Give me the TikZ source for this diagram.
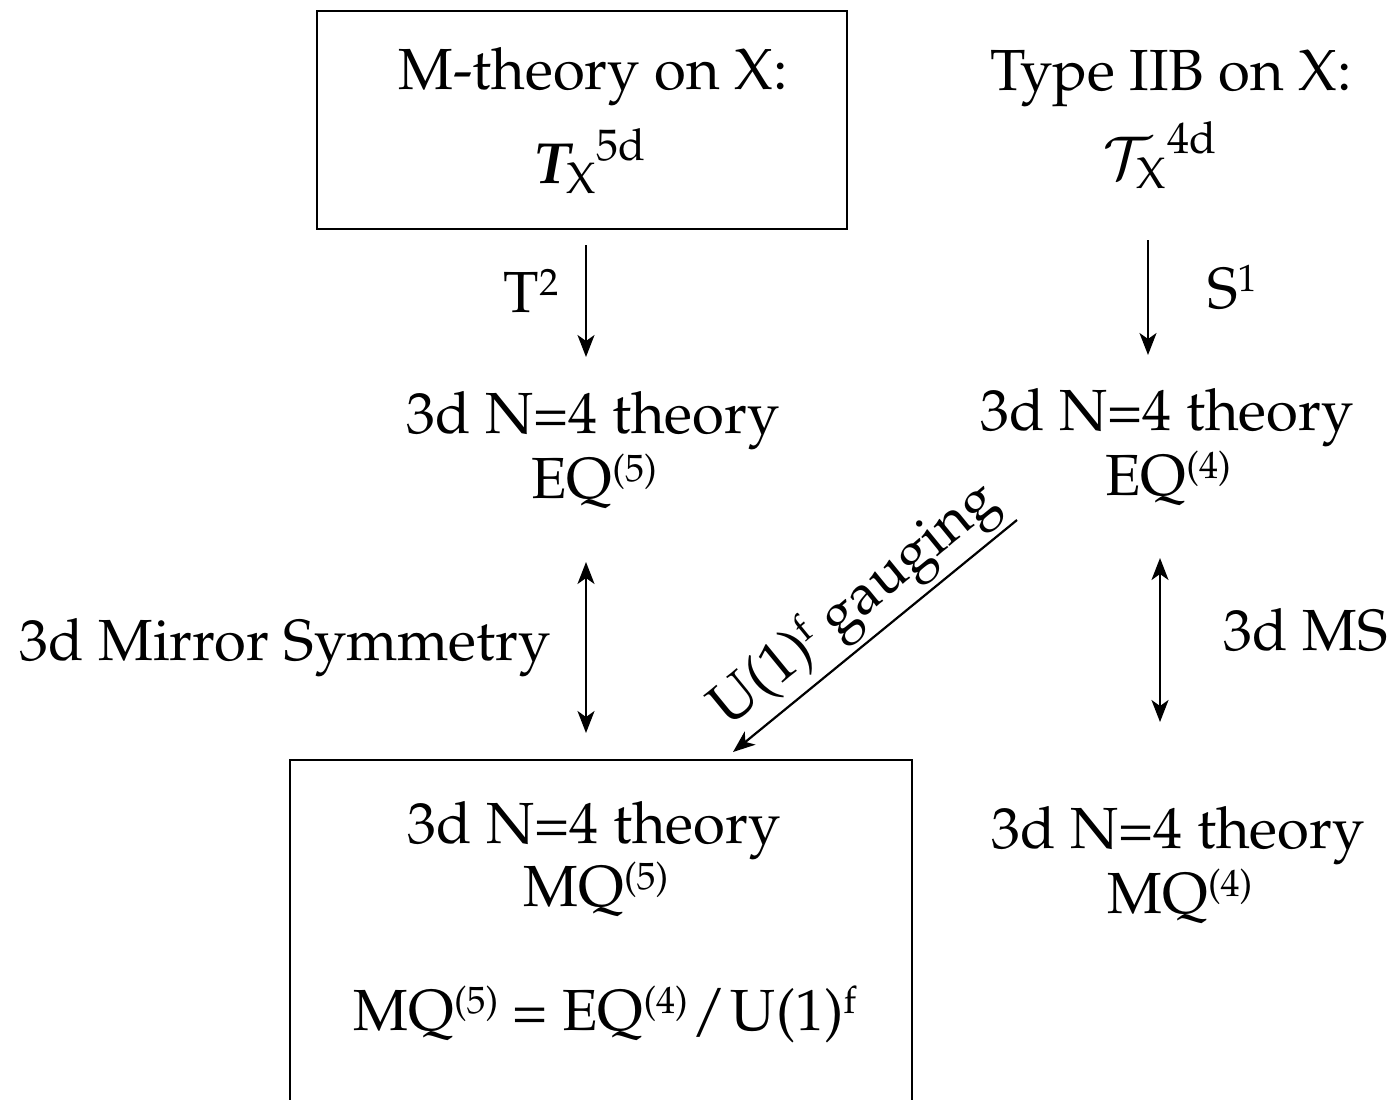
\documentclass[tikz,border=0pt]{standalone}
\usepackage[T1]{fontenc}
\usepackage{mathpazo}
\usepackage{amsmath,bm}
\usetikzlibrary{arrows.meta}
\newcommand\supx[1]{\raisebox{8.5pt}{\fontsize{19}{22}\selectfont #1}}
\tikzset{
  txt/.style={anchor=base, inner sep=0pt, font=\fontsize{29}{35}\selectfont},
  frame/.style={draw, line width=1.4pt, inner sep=0pt},
  arr/.style={line width=1.1pt, -{Stealth[length=11pt,width=8.5pt,inset=3pt]}},
  darr/.style={line width=1.1pt, {Stealth[length=11pt,width=8.5pt,inset=3pt]}-{Stealth[length=11pt,width=8.5pt,inset=3pt]}}
}
\begin{document}
\begin{tikzpicture}[x=0.5pt,y=-0.5pt]
\useasboundingbox (0,0) rectangle (1397,1099);
\clip (0,0) rectangle (1397,1099);
% boxes
\node[frame, minimum width=265pt, minimum height=109pt] (boxM) at (582,120) {};
\node[frame, minimum width=311pt, minimum height=200pt] (boxMQ) at (601,960) {};
% top texts
\node[txt] (mth) at (593,89) {M-theory on X:};
\node[txt] (tx) at (590,183) {${\bm{T}_{\mathrm{X}}}^{\mathrm{5d}}$};
\node[txt] (iib) at (1171,90) {Type IIB on X:};
\node[txt] (calt) at (1160,178) {${\mathcal{T}_{\mathrm{X}}}^{\mathrm{4d}}$};
% middle
\node[txt] (eq5a) at (593,433) {3d N=4 theory};
\node[txt] (eq5b) at (594,498) {EQ\supx{(5)}};
\node[txt] (eq4a) at (1167,430) {3d N=4 theory};
\node[txt] (eq4b) at (1168,495) {EQ\supx{(4)}};
% bottom
\node[txt] (mq5a) at (594,843) {3d N=4 theory};
\node[txt] (mq5b) at (596,906) {MQ\supx{(5)}};
\node[txt] (mqeq) at (605,1030) {MQ\supx{(5)} = EQ\supx{(4)}\kern2pt/\kern2pt U(1)\supx{f}};
\node[txt] (mq4a) at (1178,848) {3d N=4 theory};
\node[txt] (mq4b) at (1180,913) {MQ\supx{(4)}};
% labels
\node[txt] (t2) at (531,312) {T\supx{2}};
\node[txt] (s1) at (1232,308) {S\supx{1}};
\node[txt] (mirror) at (285,660) {3d Mirror Symmetry};
\node[txt] (ms) at (1306,650) {3d MS};
\node[txt, anchor=center, rotate=39.25] (gauge) at (856,605) {U(1)\supx{f} gauging};
% arrow end points
\coordinate (a1s) at (586,245); \coordinate (a1e) at (586,357);
\coordinate (a2s) at (1148,240); \coordinate (a2e) at (1148,355);
\coordinate (a3s) at (586,562); \coordinate (a3e) at (586,733);
\coordinate (a4s) at (1160,558); \coordinate (a4e) at (1160,722);
\coordinate (a5s) at (1017,520); \coordinate (a5e) at (733,752);
\draw[arr] (a1s) -- (a1e);
\draw[arr] (a2s) -- (a2e);
\draw[darr] (a3s) -- (a3e);
\draw[darr] (a4s) -- (a4e);
\draw[arr] (a5s) -- (a5e);
\end{tikzpicture}
\end{document}
